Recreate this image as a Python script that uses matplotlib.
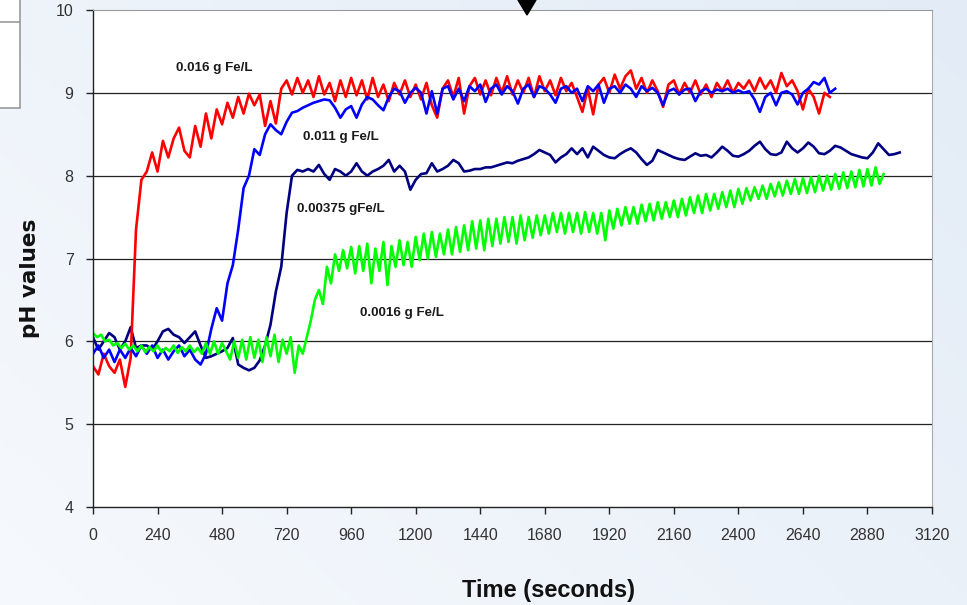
import numpy as np
import matplotlib
matplotlib.use("Agg")
import matplotlib.pyplot as plt
from matplotlib.patches import Rectangle, Polygon
from matplotlib.lines import Line2D

# pH readings, one every 20 s (green one every 15 s)
STEP = 20
GREEN_STEP = 15

red_ph = [
    5.70, 5.60, 5.85, 5.70, 5.62, 5.78, 5.45, 5.80, 7.35, 7.95,
    8.05, 8.28, 8.05, 8.42, 8.22, 8.45, 8.58, 8.30, 8.22, 8.60,
    8.35, 8.75, 8.45, 8.80, 8.62, 8.88, 8.70, 8.95, 8.75, 8.99,
    8.85, 8.98, 8.60, 8.90, 8.63, 9.05, 9.15, 8.98, 9.18, 9.00,
    9.15, 8.95, 9.20, 8.98, 9.12, 8.90, 9.15, 8.95, 9.18, 8.97,
    9.15, 8.92, 9.18, 8.95, 9.10, 8.90, 9.12, 8.98, 9.15, 8.95,
    9.10, 8.92, 9.12, 8.85, 8.70, 9.05, 9.15, 8.95, 9.18, 8.75,
    9.08, 9.18, 8.98, 9.15, 8.97, 9.18, 9.00, 9.20, 8.98, 9.15,
    9.00, 9.18, 8.95, 9.20, 9.02, 9.15, 8.97, 9.18, 9.02, 9.12,
    8.95, 8.77, 9.05, 8.74, 9.10, 9.18, 9.00, 9.22, 9.05, 9.20,
    9.27, 9.05, 9.18, 9.00, 9.15, 9.02, 8.83, 9.10, 9.15, 8.98,
    9.12, 9.00, 9.15, 8.98, 9.10, 8.95, 9.12, 9.02, 9.15, 9.00,
    9.12, 9.05, 9.15, 9.02, 9.18, 9.05, 9.15, 9.00, 9.24, 9.08,
    9.15, 9.02, 8.80, 9.05, 8.95, 8.75, 9.00, 8.95,
]

blue_ph = [
    5.85, 5.95, 5.80, 5.90, 5.75, 5.90, 5.80, 5.92, 5.82, 5.95,
    5.85, 5.95, 5.80, 5.90, 5.78, 5.88, 5.95, 5.82, 5.90, 5.78,
    5.72, 5.85, 6.15, 6.40, 6.25, 6.70, 6.92, 7.35, 7.85, 8.00,
    8.32, 8.25, 8.50, 8.62, 8.55, 8.50, 8.65, 8.76, 8.78, 8.82,
    8.85, 8.88, 8.90, 8.92, 8.91, 8.82, 8.70, 8.80, 8.84, 8.70,
    8.86, 8.95, 8.92, 8.85, 8.79, 8.95, 9.05, 9.02, 8.88, 9.00,
    9.06, 9.00, 8.75, 9.02, 8.75, 9.05, 9.08, 8.92, 9.05, 8.90,
    9.08, 9.02, 9.10, 8.89, 9.05, 9.10, 8.98, 9.08, 9.02, 8.87,
    9.05, 9.10, 8.95, 9.08, 9.05, 8.98, 8.88, 9.05, 9.08, 9.00,
    9.05, 8.90, 9.08, 9.02, 9.10, 8.88, 9.05, 9.08, 9.00, 9.10,
    9.05, 8.95, 9.08, 9.02, 9.06, 9.00, 8.85, 9.02, 9.05, 8.98,
    9.04, 9.05, 8.90, 9.02, 9.05, 9.00, 9.04, 9.02, 9.05, 9.00,
    9.03, 9.00, 9.02, 8.92, 8.77, 8.95, 9.00, 8.85, 9.00, 9.02,
    8.98, 8.86, 9.00, 9.05, 9.13, 9.10, 9.18, 9.00, 9.05,
]

navy_ph = [
    6.05, 5.90, 6.00, 6.10, 6.05, 5.90, 6.00, 6.17, 5.92, 5.95,
    5.95, 5.90, 6.00, 6.12, 6.15, 6.08, 6.05, 5.98, 6.05, 6.12,
    5.95, 5.80, 5.82, 5.85, 5.88, 5.92, 6.04, 5.72, 5.68, 5.65,
    5.68, 5.77, 5.95, 6.20, 6.60, 6.90, 7.55, 8.00, 8.07, 8.05,
    8.08, 8.05, 8.13, 8.02, 7.95, 8.08, 8.05, 8.00, 8.05, 8.15,
    8.05, 8.00, 8.05, 8.08, 8.12, 8.19, 8.05, 8.12, 8.05, 7.83,
    7.95, 8.02, 8.03, 8.15, 8.05, 8.08, 8.12, 8.19, 8.15, 8.05,
    8.06, 8.08, 8.08, 8.10, 8.10, 8.12, 8.14, 8.16, 8.15, 8.18,
    8.20, 8.22, 8.26, 8.31, 8.28, 8.25, 8.16, 8.22, 8.26, 8.33,
    8.26, 8.33, 8.22, 8.35, 8.30, 8.25, 8.22, 8.21, 8.26, 8.30,
    8.33, 8.28, 8.20, 8.13, 8.18, 8.31, 8.28, 8.25, 8.22, 8.20,
    8.19, 8.23, 8.27, 8.24, 8.25, 8.22, 8.28, 8.35, 8.30, 8.24,
    8.23, 8.26, 8.30, 8.36, 8.41, 8.32, 8.26, 8.25, 8.28, 8.41,
    8.33, 8.28, 8.33, 8.40, 8.35, 8.27, 8.26, 8.30, 8.36, 8.34,
    8.30, 8.26, 8.24, 8.22, 8.21, 8.28, 8.39, 8.32, 8.25, 8.26,
    8.28,
]

green_ph = [
    6.10, 6.05, 6.08, 6.00, 6.02, 5.95, 5.98, 5.92, 5.97, 5.90,
    5.95, 5.88, 5.95, 5.87, 5.93, 5.88, 5.95, 5.87, 5.92, 5.88,
    5.95, 5.86, 5.93, 5.88, 5.95, 5.87, 5.92, 5.85, 5.98,
    5.85, 6.00, 5.85, 5.98, 5.88, 5.78, 6.00, 5.80, 6.02, 5.78,
    6.05, 5.80, 6.02, 5.75, 6.05, 5.82, 6.08, 5.75, 6.02, 5.85,
    6.05, 5.62, 5.95, 5.85, 6.05, 6.25,
    6.50, 6.62, 6.45, 6.90, 6.70, 7.05, 6.85, 7.10, 6.88, 7.14,
    6.82, 7.15, 6.85, 7.18, 6.70, 7.12, 6.85, 7.20, 6.68, 7.15,
    6.90, 7.22, 6.92, 7.20, 6.90, 7.26,
    6.98, 7.30, 7.00, 7.32, 7.02, 7.30, 7.05, 7.35, 7.05, 7.38,
    7.08, 7.40, 7.10, 7.45, 7.12, 7.46,
    7.10, 7.48, 7.15, 7.48, 7.18, 7.50, 7.20, 7.50, 7.18, 7.52,
    7.22, 7.50, 7.25, 7.52, 7.28, 7.52,
    7.30, 7.55, 7.32, 7.55, 7.30, 7.55, 7.32, 7.55, 7.30, 7.56,
    7.32, 7.55, 7.30, 7.55, 7.22, 7.58,
    7.36, 7.60, 7.40, 7.62, 7.42, 7.62, 7.42, 7.65, 7.45, 7.66,
    7.46, 7.68, 7.48, 7.68, 7.50, 7.70,
    7.50, 7.72, 7.52, 7.74, 7.55, 7.76, 7.55, 7.78, 7.58, 7.78,
    7.60, 7.80, 7.62, 7.82, 7.62, 7.84,
    7.66, 7.85, 7.70, 7.86, 7.72, 7.88, 7.72, 7.90, 7.75, 7.92,
    7.76, 7.94, 7.78, 7.96, 7.78, 7.97,
    7.79, 7.98, 7.80, 8.00, 7.82, 8.00, 7.83, 8.02, 7.84, 8.04,
    7.85, 8.05, 7.86, 8.07, 7.87, 8.08, 7.88, 8.10, 7.90, 8.02,
]

red_t = np.arange(len(red_ph)) * STEP
blue_t = np.arange(len(blue_ph)) * STEP
navy_t = np.arange(len(navy_ph)) * STEP
green_t = np.arange(len(green_ph)) * GREEN_STEP

xticks = list(range(0, 3121, 240))
yticks = [4, 5, 6, 7, 8, 9, 10]

W, H = 967, 605
fig = plt.figure(figsize=(W / 100, H / 100), dpi=100)

# light blue slide background
bg = fig.add_axes([0, 0, 1, 1], zorder=-10)
grad = np.linspace(0, 1, 256)
gx, gy = np.meshgrid(grad, grad)
g = 0.6 * gx + 0.4 * (1 - gy)
c0 = np.array([0.965, 0.976, 0.992])
c1 = np.array([0.890, 0.925, 0.965])
img = c0[None, None, :] * (1 - g[..., None]) + c1[None, None, :] * g[..., None]
bg.imshow(img, aspect="auto", extent=[0, 1, 0, 1], origin="upper")
bg.set_axis_off()

ax = fig.add_axes([93 / W, 1 - 507 / H, (932 - 93) / W, (507 - 10) / H])
ax.set_facecolor("white")

ax.plot(navy_t, navy_ph, color="#000080", lw=1.9)
ax.plot(red_t, red_ph, color="#ff0000", lw=1.9)
ax.plot(blue_t, blue_ph, color="#0000ff", lw=1.9)
ax.plot(green_t, green_ph, color="#00ff00", lw=1.9)

ax.set_xlim(0, 3120)
ax.set_ylim(4, 10)
ax.set_xticks(xticks)
ax.set_yticks(yticks)

for y in yticks[1:-1]:
    ax.axhline(y, color="#222222", lw=0.9, zorder=0.5)

for s in ["left", "bottom"]:
    ax.spines[s].set_color("#222222")
    ax.spines[s].set_linewidth(1.0)
ax.spines["top"].set_color("#999999")
ax.spines["right"].set_color("#aaaaaa")

ax.tick_params(axis="both", direction="out", length=5, width=1, color="#222222",
               labelcolor="#333333")
ax.tick_params(axis="x", pad=10)
ax.tick_params(axis="y", pad=9)
for lab in ax.get_xticklabels() + ax.get_yticklabels():
    lab.set_fontfamily(["Liberation Sans", "DejaVu Sans"])
    lab.set_fontsize(11.5)

lab_font = dict(family=["Liberation Sans", "DejaVu Sans"], size=9.6, weight="bold", color="#1a1a1a")
ax.text(309, 9.30, "0.016 g Fe/L", va="center", ha="left", **lab_font)
ax.text(781, 8.47, "0.011 g Fe/L", va="center", ha="left", **lab_font)
ax.text(759, 7.60, "0.00375 gFe/L", va="center", ha="left", **lab_font)
ax.text(993, 6.34, "0.0016 g Fe/L", va="center", ha="left", **lab_font)

fig.text(549 / W, 1 - 590 / H, "Time (seconds)", ha="center", va="center",
         family=["Liberation Sans", "DejaVu Sans"], size=17, weight="bold", color="#111111")
fig.text(30 / W, 1 - 278 / H, "pH values", ha="center", va="center", rotation=90,
         family=["DejaVu Sans"], size=15.5, weight="bold", color="#111111")

# cut-off legend box at top left and marker triangle at top
fig.patches.append(Rectangle((-2 / W, 1 - 108 / H), 22 / W, 110 / H, transform=fig.transFigure,
                             facecolor="white", edgecolor="#999999", lw=1.2, zorder=5))
fig.lines.append(Line2D([0, 20 / W], [1 - 22 / H, 1 - 22 / H], transform=fig.transFigure,
                        color="#999999", lw=1.2, zorder=6))
fig.patches.append(Polygon([(518 / W, 1.0), (536 / W, 1.0), (527 / W, 1 - 15 / H)],
                           closed=True, transform=fig.transFigure, facecolor="black",
                           edgecolor="black", zorder=10))

fig.savefig("out.png", dpi=100)
